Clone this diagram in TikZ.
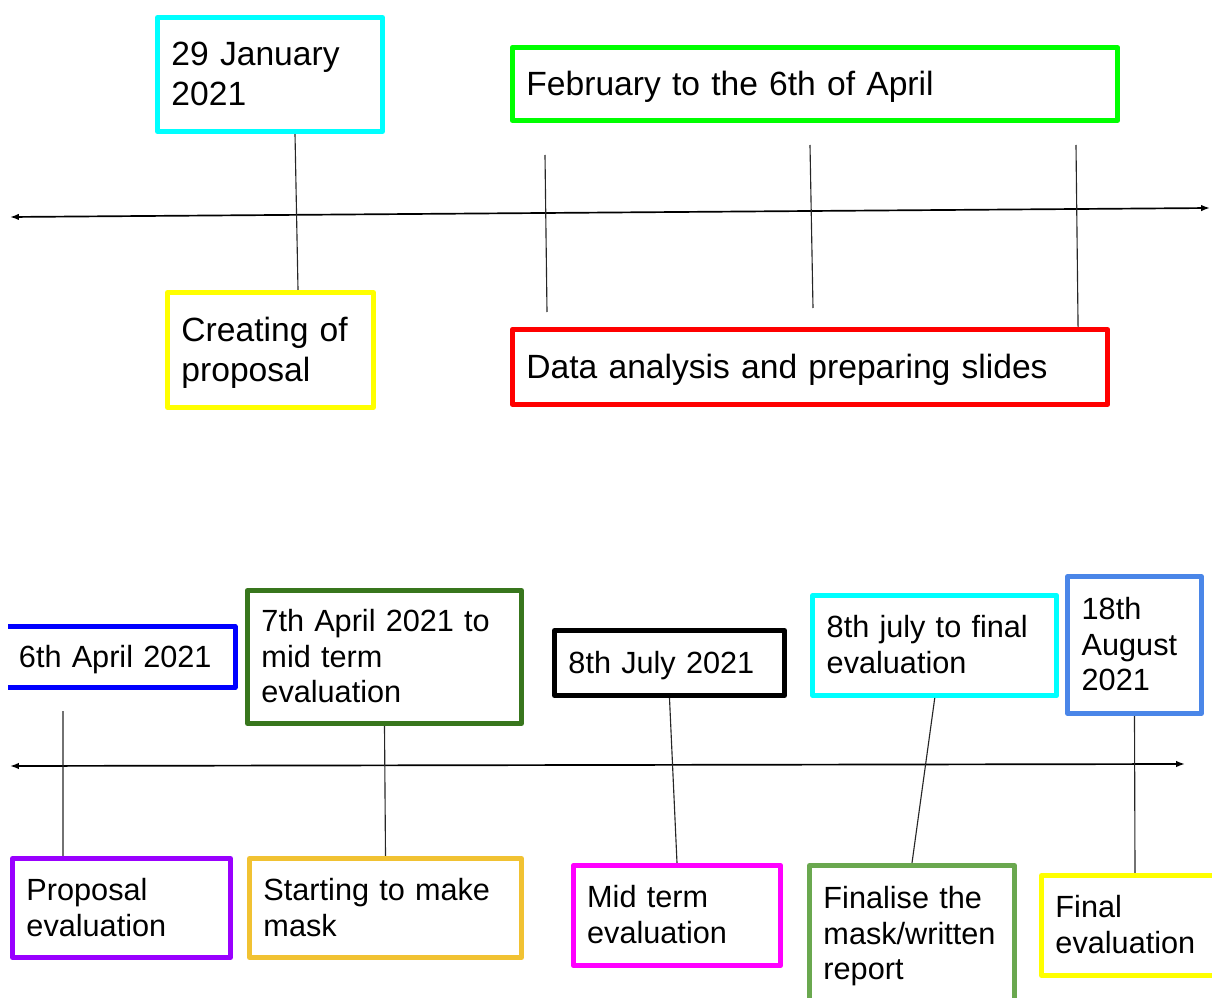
\documentclass[tikz,border=0pt]{standalone}
\usepackage{fontspec}
\setmainfont{Liberation Sans}
\usetikzlibrary{arrows.meta}
\definecolor{aqua}{HTML}{00FFFF}
\definecolor{lime}{HTML}{00FF00}
\definecolor{lemon}{HTML}{FFFF00}
\definecolor{scarlet}{HTML}{FF0000}
\definecolor{royal}{HTML}{0000FF}
\definecolor{forest}{HTML}{38761D}
\definecolor{cornflower}{HTML}{4A86E8}
\definecolor{violet}{HTML}{9900FF}
\definecolor{gold}{HTML}{F1C232}
\definecolor{fuchsia}{HTML}{FF00FF}
\definecolor{leaf}{HTML}{6AA84F}
\newcommand{\bigtxt}{\fontsize{23.9}{28.5}\selectfont}
\newcommand{\smalltxt}{\fontsize{21.8}{25.3}\selectfont}
\newcommand{\topstrut}{\rule{0pt}{\dimexpr.7\baselineskip+4.4pt\relax}}
\begin{document}
\begin{tikzpicture}[x=0.025cm,y=-0.025cm,
  evt/.style={draw=#1,line width=3.6pt,line join=round,rectangle,align=left,
    inner xsep=0.35cm,inner ysep=0pt,
    execute at begin node=\topstrut,execute at end node=\strut},
  bigtext/.style={font=\bigtxt},
  smalltext/.style={font=\smalltxt},
  stem/.style={line width=0.8pt,black!85},
  axis/.style={{Latex[length=0.22cm,width=0.16cm]}-{Latex[length=0.22cm,width=0.16cm]},line width=1.2pt}]
\useasboundingbox (0,0) rectangle (1212,998);
\clip (8,0) rectangle (1212,998);

% first timeline
\coordinate (axl1) at (10,217);
\coordinate (axr1) at (1210,208);
\draw[axis] (axl1) -- (axr1);

\node[evt=aqua,bigtext,text width=4.925cm,minimum height=2.85cm] (jan) at (270,74.5) {29 January\\2021};
\node[evt=lime,bigtext,text width=14.425cm,minimum height=1.825cm] (feb) at (815,84) {February to the 6th of April};
\node[evt=lemon,bigtext,text width=4.45cm,minimum height=2.875cm] (prop) at (270.5,350) {Creating of\\proposal};
\node[evt=scarlet,bigtext,text width=14.175cm,minimum height=1.875cm] (data) at (810,367) {Data analysis and preparing slides};

\coordinate (tka) at (545,155);
\coordinate (tkb) at (547,312);
\coordinate (tkc) at (810,145);
\coordinate (tkd) at (813,308);
\coordinate (tke) at (1076,145);
\draw[stem] ([xshift=0.625cm]jan.south) -- ([xshift=0.6875cm]prop.north);
\draw[stem] (tka) -- (tkb);
\draw[stem] (tkc) -- (tkd);
\draw[stem] (tke) -- ([xshift=6.7cm]data.north);

% second timeline
\coordinate (axl2) at (10,766);
\coordinate (axr2) at (1185,764);
\draw[axis] (axl2) -- (axr2);

\node[evt=royal,smalltext,text width=5.05cm,minimum height=1.525cm] (apr6) at (120,657) {6th April 2021};
\node[evt=forest,smalltext,text width=6.15cm,minimum height=3.325cm] (apr7) at (384.5,657) {7th April 2021 to\\mid term\\evaluation};
\node[evt=black,smalltext,text width=5.05cm,minimum height=1.625cm] (jul8) at (669.5,663) {8th July 2021};
\node[evt=aqua,smalltext,text width=5.4cm,minimum height=2.5cm] (julfin) at (934.75,645.5) {8th july to final\\evaluation};
\node[evt=cornflower,smalltext,text width=2.64cm,minimum height=3.425cm] (aug18) at (1134.5,645) {18th\\August\\2021};

\node[evt=violet,smalltext,text width=4.75cm,minimum height=2.475cm] (peval) at (121.5,908) {Proposal\\evaluation};
\node[evt=gold,smalltext,text width=6.1cm,minimum height=2.475cm] (mask) at (385.5,908) {Starting to make\\mask};
\node[evt=fuchsia,smalltext,text width=4.49cm,minimum height=2.5cm] (mid) at (677,915.5) {Mid term\\evaluation};
\node[evt=leaf,smalltext,text width=4.425cm,minimum height=3.425cm] (fin) at (912,934) {Finalise the\\mask/written\\report};
\node[evt=lemon,smalltext,text width=3.975cm,minimum height=2.5cm] (feval) at (1135,925.5) {Final\\evaluation};

\coordinate (tkf) at (63,711);
\draw[stem] (tkf) -- ([xshift=-1.4625cm]peval.north);
\draw[stem] (apr7.south) -- (mask.north);
\draw[stem] (jul8.south) -- (mid.north);
\draw[stem] (julfin.south) -- (fin.north);
\draw[stem] (aug18.south) -- (feval.north);
\end{tikzpicture}
\end{document}
